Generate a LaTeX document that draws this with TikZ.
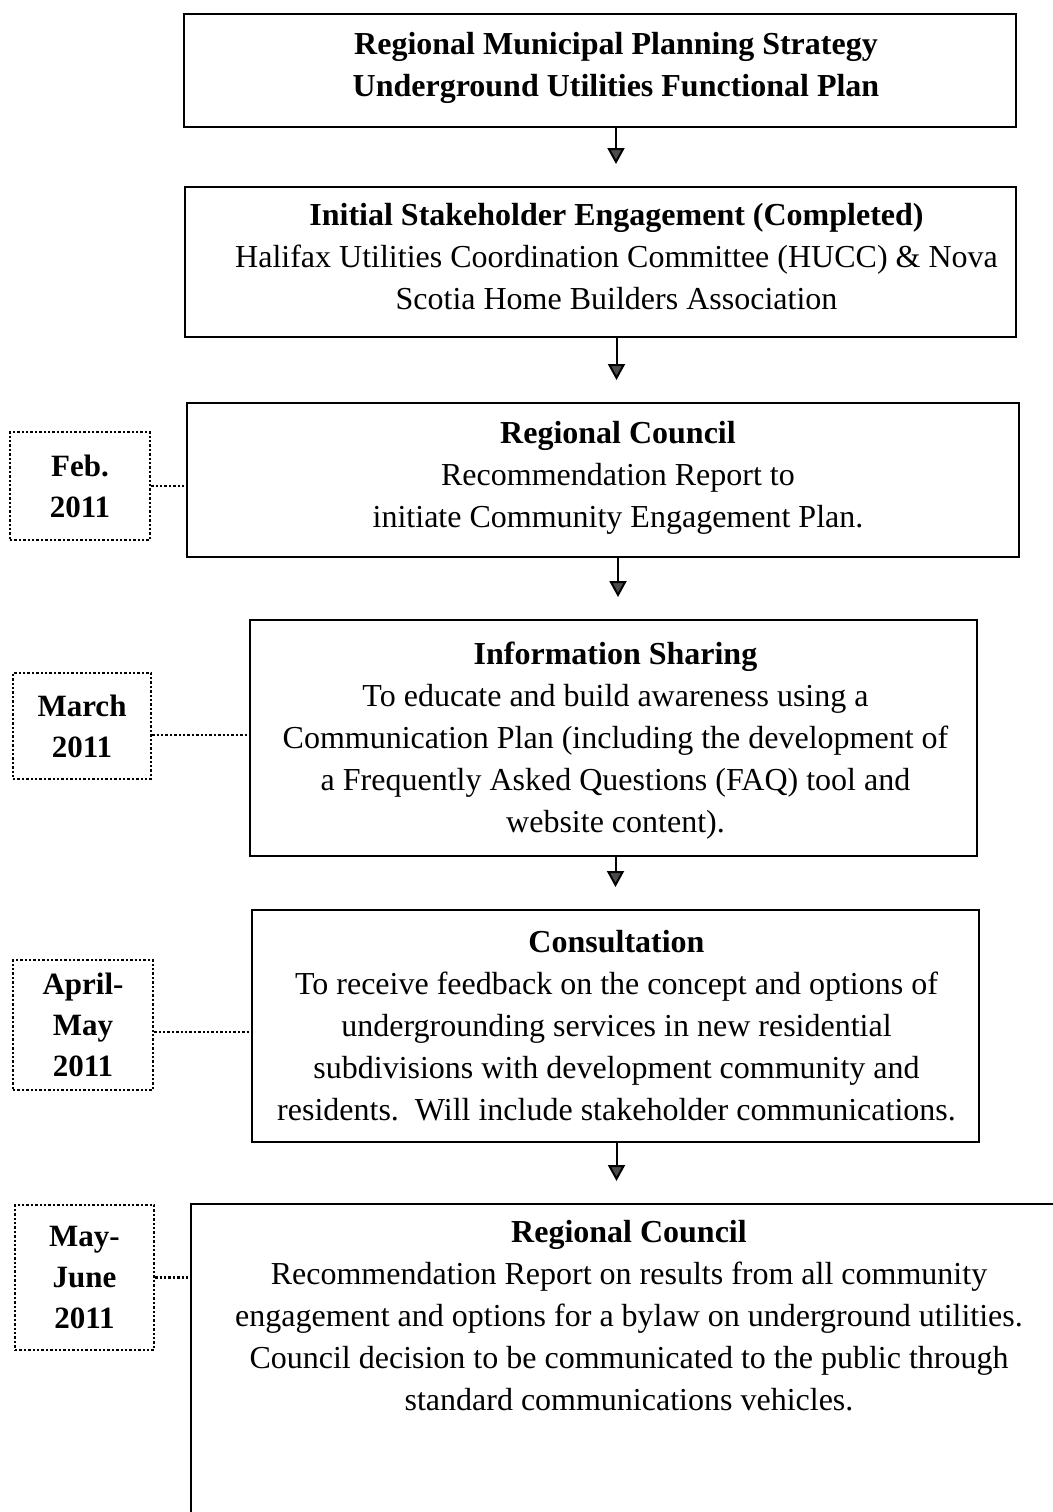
\documentclass[tikz,border=0pt]{standalone}
\usepackage{fontspec}
\setmainfont{Liberation Serif}
\usetikzlibrary{arrows.meta,positioning,calc}
\tikzset{
  box/.style={draw, line width=1pt, fill=white},
  txt/.style={align=center, inner sep=0pt, font=\fontsize{16pt}{21pt}\selectfont},
  datebox/.style={draw, densely dotted, line width=1.2pt, align=center, inner sep=0pt, font=\fontsize{15.5pt}{20.5pt}\selectfont\bfseries},
  arrow/.style={-{Triangle[width=8.5pt, length=8pt, fill=black!70]}, line width=1pt, shorten >=11pt},
  link/.style={densely dotted, line width=1.2pt},
}
\begin{document}
\begin{tikzpicture}[x=0.5pt, y=-0.5pt]
  \useasboundingbox (0,0) rectangle (1053,1512);

  % main steps
  \node[box, minimum width=416pt, minimum height=56.5pt] (rmps) at (600,70.5) {};
  \node[txt] (rmpsT) at ([xshift=8pt, yshift=1.5pt]rmps.center) {\textbf{Regional Municipal Planning Strategy}\\\textbf{Underground Utilities Functional Plan}};

  \node[box, minimum width=415.5pt, minimum height=75pt] (initial) at (600.5,262) {};
  \node[txt] (initialT) at ([xshift=8pt, yshift=2.5pt]initial.center) {\textbf{Initial Stakeholder Engagement (Completed)}\\Halifax Utilities Coordination Committee (HUCC) \& Nova\\Scotia Home Builders Association};

  \node[box, minimum width=416pt, minimum height=77pt] (council) at (603,480) {};
  \node[txt] (councilT) at ([xshift=7.5pt, yshift=1pt]council.center) {\textbf{Regional Council}\\Recommendation Report to\\initiate Community Engagement Plan.};

  \node[box, minimum width=363.5pt, minimum height=118pt] (info) at (613.5,738) {};
  \node[txt] (infoT) at ([xshift=1pt, yshift=-1.5pt]info.center) {\textbf{Information Sharing}\\To educate and build awareness using a\\Communication Plan (including the development of\\a Frequently Asked Questions (FAQ) tool and\\website content).};

  \node[box, minimum width=363.5pt, minimum height=116pt] (consult) at (615.5,1026) {};
  \node[txt] (consultT) at ([xshift=0.5pt]consult.center) {\textbf{Consultation}\\To receive feedback on the concept and options of\\undergrounding services in new residential\\subdivisions with development community and\\residents.\ \ Will include stakeholder communications.};

  \node[box, minimum width=438pt, minimum height=198.5pt, anchor=north] (final) at (629,1203) {};
  \node[txt, anchor=north] (finalT) at ([yshift=-8.5pt]final.north) {\textbf{Regional Council}\\Recommendation Report on results from all community\\engagement and options for a bylaw on underground utilities.\\Council decision to be communicated to the public through\\standard communications vehicles.};

  % dates
  \node[datebox, minimum width=70pt, minimum height=54pt] (feb) at (80,486) {Feb.\\2011};
  \node[datebox, minimum width=69pt, minimum height=53pt] (march) at (82,726) {March\\2011};
  \node[datebox, minimum width=70pt, minimum height=65pt] (april) at (83,1025) {April-\\May\\2011};
  \node[datebox, minimum width=69.5pt, minimum height=72.5pt] (may) at (84.5,1277.5) {May-\\June\\2011};

  \draw[arrow] (rmps.south -| rmpsT) -- (rmpsT |- initial.north);
  \draw[arrow] (initial.south -| initialT) -- (initialT |- council.north);
  \draw[arrow] (council.south -| councilT) -- (councilT |- info.north);
  \draw[arrow] (info.south -| infoT) -- (infoT |- consult.north);
  \draw[arrow] (consult.south -| consultT) -- (consultT |- final.north);

  \draw[link] (feb.east) -- (feb.east -| council.west);
  \draw[link] ([yshift=-4.5pt]march.east) -- ([yshift=-4.5pt]march.east -| info.west);
  \draw[link] ([yshift=-3.5pt]april.east) -- ([yshift=-3.5pt]april.east -| consult.west);
  \draw[link] (may.east) -- (may.east -| final.west);
\end{tikzpicture}
\end{document}
